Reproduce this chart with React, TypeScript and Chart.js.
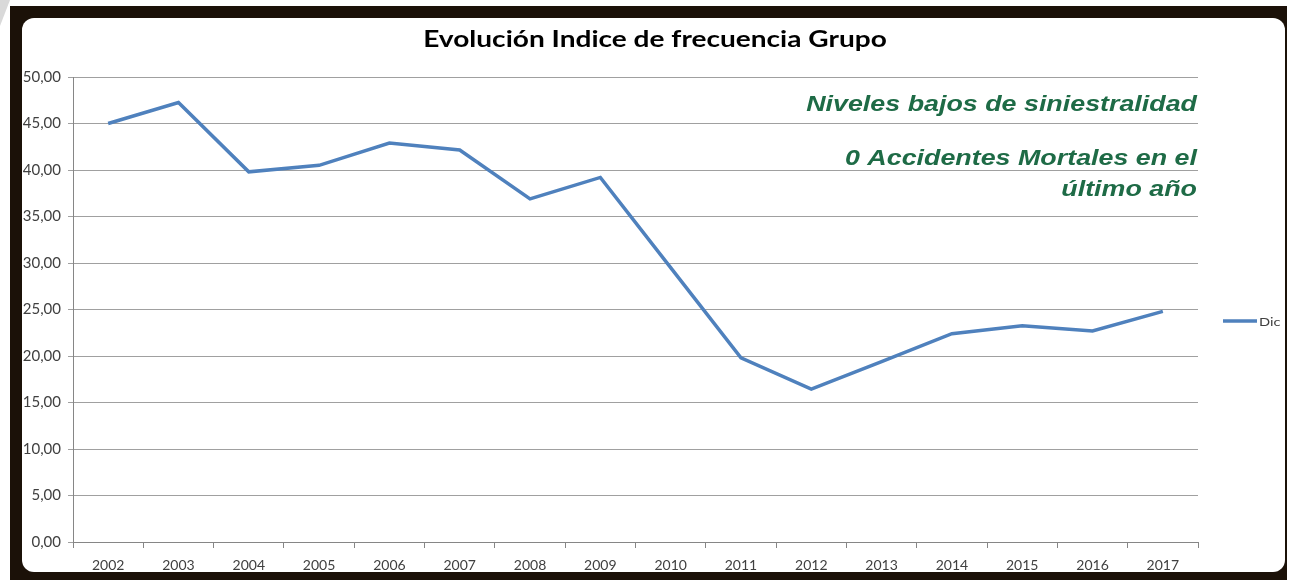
import React, { useEffect, useRef } from "react";
import { Chart, registerables } from "chart.js";

Chart.register(...registerables);

const years = ["2002", "2003", "2004", "2005", "2006", "2007", "2008", "2009", "2010", "2011", "2012", "2013", "2014", "2015", "2016", "2017"];
const dicValues = [45.0, 47.25, 39.8, 40.5, 42.9, 42.15, 36.9, 39.2, 29.5, 19.8, 16.45, 19.4, 22.4, 23.25, 22.7, 24.8];
const seriesName = "Dic";
const chartTitle = "Evolución Indice de frecuencia Grupo";
const noteLines = ["Niveles bajos de siniestralidad", "0 Accidentes Mortales en el", "último año"];
const yMin = 0;
const yMax = 50;
const yStep = 5;

const LINE_COLOR = "#4f81bd";
const NOTE_COLOR = "#1e6b46";
const STRETCH = 1.22;

function stretchedText(ctx: any, text: string, x: number, y: number) {
  ctx.save();
  ctx.translate(x, y);
  ctx.scale(STRETCH, 1);
  ctx.fillText(text, 0, 0);
  ctx.restore();
}

const overlayPlugin = {
  id: "overlay",
  afterDraw(chart: any) {
    const ctx = chart.ctx;
    const area = chart.chartArea;
    ctx.save();
    // title
    ctx.fillStyle = "#000000";
    ctx.font = "bold 23px Lato";
    ctx.textAlign = "center";
    ctx.textBaseline = "middle";
    stretchedText(ctx, chartTitle, 655, 40);
    // notes
    ctx.fillStyle = NOTE_COLOR;
    ctx.font = "italic bold 22px 'Liberation Sans'";
    ctx.textAlign = "right";
    ctx.textBaseline = "alphabetic";
    const baselines = [111, 165, 196];
    noteLines.forEach((t, i) => stretchedText(ctx, t, area.right - 1, baselines[i]));
    // legend
    const ly = 321;
    ctx.strokeStyle = LINE_COLOR;
    ctx.lineWidth = 3.5;
    ctx.beginPath();
    ctx.moveTo(1223, ly);
    ctx.lineTo(1257, ly);
    ctx.stroke();
    ctx.fillStyle = "#404040";
    ctx.font = "12px Lato";
    ctx.textAlign = "left";
    ctx.textBaseline = "middle";
    stretchedText(ctx, seriesName, 1259, ly + 1);
    ctx.restore();
  },
};

export default function App() {
  const canvasRef = useRef<HTMLCanvasElement | null>(null);

  useEffect(() => {
    if (!canvasRef.current) return;
    const chart = new Chart(canvasRef.current, {
      type: "line",
      data: {
        labels: years,
        datasets: [
          {
            label: seriesName,
            data: dicValues,
            borderColor: LINE_COLOR,
            backgroundColor: LINE_COLOR,
            borderWidth: 3.5,
            pointRadius: 0,
            tension: 0,
            fill: false,
          },
        ],
      },
      options: {
        animation: false,
        responsive: false,
        devicePixelRatio: 1,
        layout: { padding: { top: 77, right: 91, left: 0, bottom: 0 } },
        plugins: {
          legend: { display: false },
          title: { display: false },
          tooltip: { enabled: false },
        },
        scales: {
          x: {
            offset: true,
            grid: {
              offset: true,
              drawOnChartArea: false,
              drawTicks: true,
              tickLength: 6,
              color: "#868686",
            },
            border: { display: true, color: "#868686", width: 1 },
            ticks: {
              color: "#404040",
              font: { family: "Lato", size: 14 },
              padding: 9,
              maxRotation: 0,
            },
            afterFit: (s: any) => {
              s.height = 38;
            },
          },
          y: {
            min: yMin,
            max: yMax,
            grid: {
              color: "#a0a0a0",
              lineWidth: 1,
              drawTicks: true,
              tickLength: 5,
            },
            border: { display: true, color: "#868686", width: 1 },
            ticks: {
              stepSize: yStep,
              color: "#404040",
              font: { family: "Lato", size: 15 },
              padding: 7,
              callback: (v: any) => Number(v).toFixed(2).replace(".", ","),
            },
            afterFit: (s: any) => {
              s.width = 73;
            },
          },
        },
      },
      plugins: [overlayPlugin],
    });
    return () => chart.destroy();
  }, []);

  return (
    <div style={{ position: "fixed", left: 0, top: 0, width: 1289, height: 580, overflow: "hidden", background: "#ffffff" }}>
      <div
        style={{
          position: "absolute",
          left: 0,
          top: 0,
          width: 10,
          height: 26,
          background: "#d9d9d9",
          clipPath: "polygon(0 0, 100% 0, 0 100%)",
        }}
      />
      <div style={{ position: "absolute", left: 10, top: 6, width: 1277, height: 574, background: "#1b1108" }} />
      <div
        style={{
          position: "absolute",
          left: 22,
          top: 18,
          width: 1263,
          height: 554,
          background: "#ffffff",
          borderRadius: 12,
        }}
      />
      <canvas ref={canvasRef} width={1289} height={580} style={{ position: "absolute", left: 0, top: 0 }} />
    </div>
  );
}
